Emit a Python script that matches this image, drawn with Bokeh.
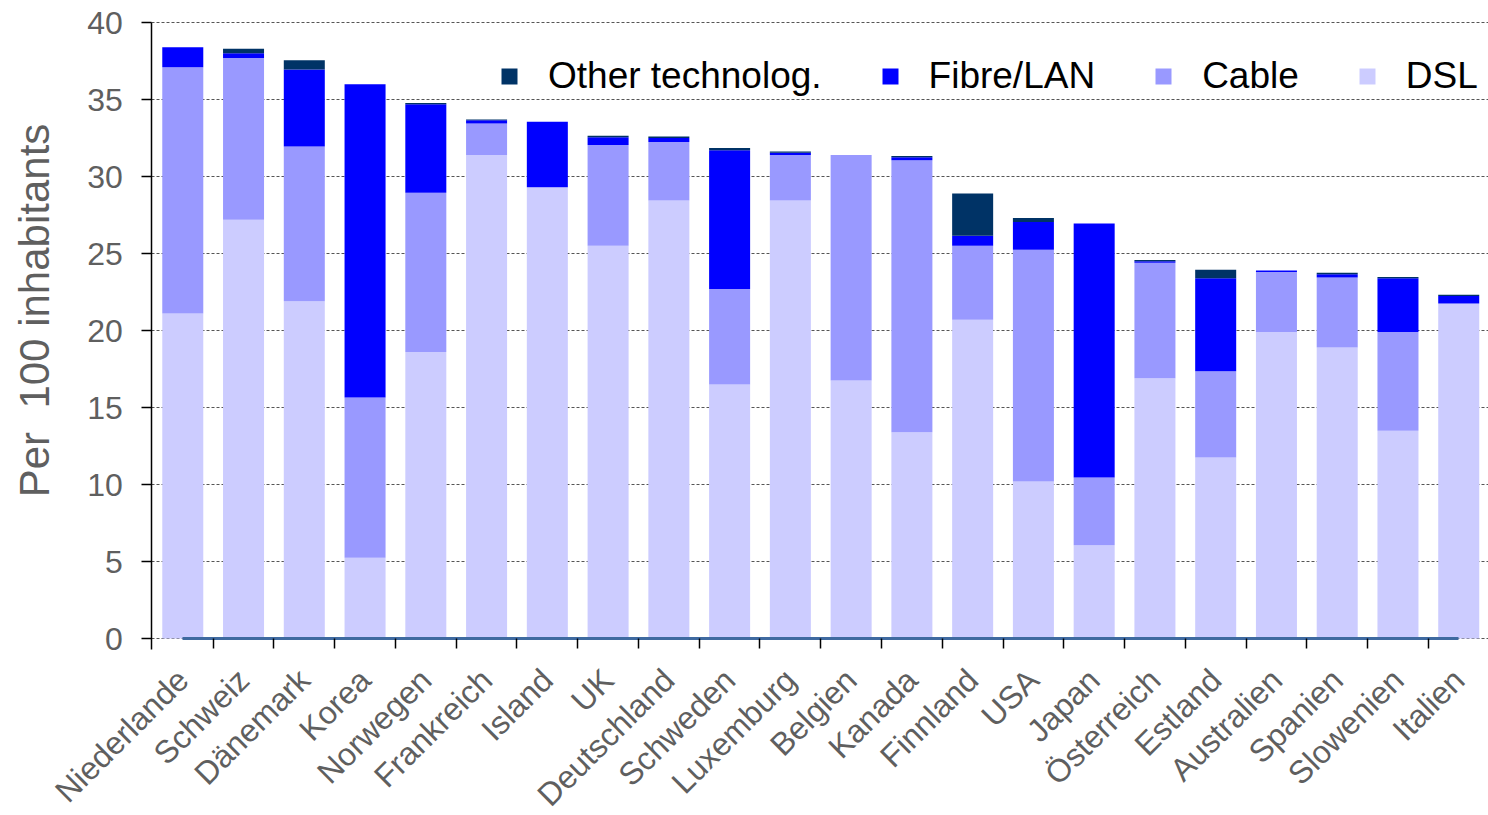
import math

from bokeh.embed import file_html
from bokeh.models import (ColumnDataSource, FixedTicker, Label, Legend,
                          LegendItem, LinearAxis, Range1d)
from bokeh.plotting import figure
from bokeh.resources import INLINE

# Broadband subscribers per 100 inhabitants, by technology
countries = ["Niederlande", "Schweiz", "Dänemark", "Korea", "Norwegen",
             "Frankreich", "Island", "UK", "Deutschland", "Schweden",
             "Luxemburg", "Belgien", "Kanada", "Finnland", "USA", "Japan",
             "Österreich", "Estland", "Australien", "Spanien", "Slowenien",
             "Italien"]
dsl = [21.1, 27.2, 21.9, 5.25, 18.6, 31.4, 29.3, 25.5, 28.45, 16.5, 28.45,
       16.75, 13.4, 20.7, 10.2, 6.05, 16.9, 11.75, 19.9, 18.9, 13.5, 21.75]
cable = [16.0, 10.5, 10.05, 10.4, 10.35, 2.05, 0.0, 6.55, 3.8, 6.2, 2.95,
         14.65, 17.65, 4.8, 15.05, 4.4, 7.5, 5.6, 3.9, 4.55, 6.4, 0.0]
fibre = [1.3, 0.3, 5.0, 20.35, 5.75, 0.2, 4.25, 0.5, 0.25, 9.0, 0.15,
         0.0, 0.2, 0.65, 1.8, 16.5, 0.1, 6.05, 0.1, 0.2, 3.5, 0.5]
other = [0.0, 0.3, 0.6, 0.0, 0.08, 0.05, 0.0, 0.1, 0.1, 0.15, 0.08,
         0.0, 0.08, 2.75, 0.25, 0.0, 0.08, 0.55, 0.0, 0.1, 0.08, 0.08]
y_ticks = [0, 5, 10, 15, 20, 25, 30, 35, 40]

series = ["DSL", "Cable", "Fibre/LAN", "Other technolog."]
colors = ["#CCCCFF", "#9999FF", "#0000FF", "#003366"]

FONT = "Liberation Sans"
GREY = "#5f5f5f"

# where the value axis crosses the category axis (half a slot left of bar 1)
Y_AXIS_AT = -0.51

x = list(range(len(countries)))
source = ColumnDataSource(dict(x=x, dsl=dsl, cable=cable, fibre=fibre,
                               other=other))

# the frame fills the whole canvas; both axes are pinned inside it so the
# tick labels, rotated country names and vertical title all have room
p = figure(width=1488, height=815,
           x_range=Range1d(-3.0, 21.49), y_range=Range1d(-11.49, 41.43),
           x_axis_location=None, y_axis_location=None,
           output_backend="svg", toolbar_location=None,
           min_border_left=0, min_border_right=0,
           min_border_top=0, min_border_bottom=0)
p.outline_line_color = None
p.background_fill_color = "white"
p.border_fill_color = "white"

renderers = p.vbar_stack(["dsl", "cable", "fibre", "other"], x="x",
                         width=0.675, source=source, fill_color=colors,
                         line_color=None)

# category axis: names at bar centres, tick marks between bars
xaxis = LinearAxis(fixed_location=0)
xaxis.ticker = FixedTicker(ticks=x,
                           minor_ticks=[i + 0.5 for i in range(len(x) - 1)])
xaxis.major_label_overrides = {i: name for i, name in enumerate(countries)}
xaxis.major_label_orientation = math.pi / 4
xaxis.major_tick_out = 0
xaxis.major_tick_in = 0
xaxis.minor_tick_out = 10
xaxis.minor_tick_in = 0
xaxis.minor_tick_line_color = "black"
xaxis.minor_tick_line_width = 1.5
xaxis.axis_line_color = "#3f6aa0"
xaxis.axis_line_width = 3
xaxis.bounds = (0, 21)
xaxis.major_label_standoff = 26
xaxis.major_label_text_font = FONT
xaxis.major_label_text_font_size = "32px"
xaxis.major_label_text_color = GREY
p.add_layout(xaxis, "below")

yaxis = LinearAxis(fixed_location=Y_AXIS_AT)
yaxis.ticker = FixedTicker(ticks=y_ticks)
yaxis.bounds = (-0.7, 40)
yaxis.major_tick_out = 10
yaxis.major_tick_in = 0
yaxis.major_tick_line_color = "black"
yaxis.major_tick_line_width = 1.5
yaxis.minor_tick_line_color = None
yaxis.axis_line_color = "black"
yaxis.axis_line_width = 1.5
yaxis.major_label_standoff = 19
yaxis.major_label_text_font = FONT
yaxis.major_label_text_font_size = "32px"
yaxis.major_label_text_color = GREY
p.add_layout(yaxis, "left")

p.xgrid.visible = False
p.ygrid.ticker = FixedTicker(ticks=y_ticks)
p.ygrid.cross_bounds = (Y_AXIS_AT, 21.49)
p.ygrid.grid_line_color = "#555555"
p.ygrid.grid_line_dash = "3 2"
p.ygrid.grid_line_width = 1

p.add_layout(Label(x=34, y=505, x_units="screen", y_units="screen",
                   text="Per \u00a0100 inhabitants", angle=math.pi / 2,
                   text_align="center", text_baseline="middle",
                   text_font=FONT, text_font_size="42px", text_color=GREY))

items = [LegendItem(label=name, renderers=[r])
         for name, r in reversed(list(zip(series, renderers)))]
legend = Legend(items=items, orientation="horizontal", location=(499, 718),
                background_fill_color="white", background_fill_alpha=1.0,
                border_line_color=None, padding=10, margin=0, spacing=58,
                label_standoff=29, glyph_width=20, glyph_height=20,
                label_height=40,
                label_text_font=FONT, label_text_font_size="37px",
                label_text_color="black", label_text_baseline="middle")
p.add_layout(legend)

open("out.html", "w").write(file_html(p, INLINE))
